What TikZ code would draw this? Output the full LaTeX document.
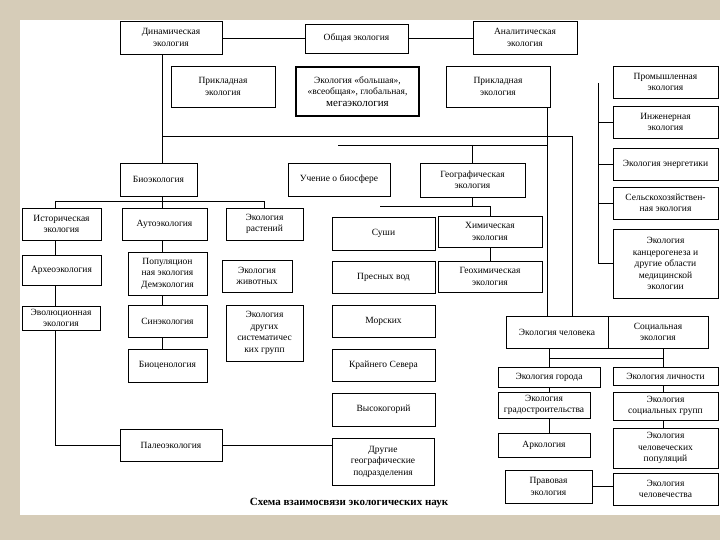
\documentclass[tikz,border=0pt]{standalone}
\usepackage{fontspec}
\setmainfont{Liberation Serif}
\definecolor{bg}{RGB}{214,204,184}
\tikzset{
  box/.style={draw, line width=0.8pt, inner sep=1pt, align=center, font=\fontsize{9.5}{11.5}\selectfont},
  conn/.style={line width=0.8pt}
}
\newcommand\bx[7][]{\node[box,#1,minimum width={(#5-#3)*1pt},minimum height={(#6-#4)*1pt}] (#2) at ({(#3+#5)/2},{(#4+#6)/2}) {#7};}
\begin{document}
\begin{tikzpicture}[x=1pt,y=-1pt]
\fill[bg] (0,0) rectangle (720,540);
\fill[white] (20,20) rectangle (720,515);
\useasboundingbox (0,0) rectangle (720,540);

% top row
\bx{dyn}{120}{21}{222}{54}{Динамическая\\экология}
\bx{obsh}{305}{24}{408}{53}{Общая экология}
\bx{anal}{473}{21}{577}{54}{Аналитическая\\экология}
% second row
\bx{prikL}{171}{66}{275}{107}{Прикладная\\экология}
\bx[line width=2.6pt]{mega}{296}{67}{419}{116}{Экология «большая»,\\«всеобщая», глобальная,\\{\fontsize{11}{13}\selectfont мегаэкология}}
\bx{prikR}{446}{66}{550}{107}{Прикладная\\экология}
% right column
\bx{prom}{613}{66}{718}{98}{Промышленная\\экология}
\bx{inzh}{613}{106}{718}{138}{Инженерная\\экология}
\bx{energ}{613}{148}{718}{180}{Экология энергетики}
\bx{selh}{613}{187}{718}{219}{Сельскохозяйствен-\\ная экология}
\bx{kanc}{613}{229}{718}{298}{Экология\\канцерогенеза и\\другие области\\медицинской\\экологии}
% third row
\bx{bio}{120}{163}{197}{196}{Биоэкология}
\bx{uch}{288}{163}{390}{196}{Учение о биосфере}
\bx{geo}{420}{163}{525}{197}{Географическая\\экология}
% biology branch
\bx{ist}{22}{208}{101}{240}{Историческая\\экология}
\bx{auto}{122}{208}{207}{240}{Аутоэкология}
\bx{rast}{226}{208}{303}{240}{Экология\\растений}
\bx{arh}{22}{255}{101}{285}{Археоэкология}
\bx{pop}{128}{252}{207}{295}{Популяцион\\ная экология\\Демэкология}
\bx{zhiv}{222}{260}{292}{292}{Экология\\животных}
\bx{evol}{22}{306}{100}{330}{Эволюционная\\экология}
\bx{sin}{128}{305}{207}{337}{Синэкология}
\bx{sist}{226}{305}{303}{361}{Экология\\других\\систематичес\\ких групп}
\bx{biocen}{128}{349}{207}{382}{Биоценология}
\bx{paleo}{120}{429}{222}{461}{Палеоэкология}
% geography branch
\bx{sushi}{332}{217}{435}{250}{Суши}
\bx{him}{438}{216}{542}{247}{Химическая\\экология}
\bx{presn}{332}{261}{435}{293}{Пресных вод}
\bx{geohim}{438}{261}{542}{292}{Геохимическая\\экология}
\bx{mor}{332}{305}{435}{337}{Морских}
\bx{sever}{332}{349}{435}{381}{Крайнего Севера}
\bx{vys}{332}{393}{435}{426}{Высокогорий}
\bx{drug}{332}{438}{434}{485}{Другие\\географические\\подразделения}
% human branch
\bx{chel}{506}{316}{608}{348}{Экология человека}
\bx{soc}{608}{316}{708}{348}{Социальная\\экология}
\bx{gor}{498}{367}{600}{387}{Экология города}
\bx{lich}{613}{367}{718}{385}{Экология личности}
\bx{grad}{498}{392}{590}{418}{Экология\\градостроительства}
\bx{ark}{498}{433}{590}{457}{Аркология}
\bx{prav}{505}{470}{592}{503}{Правовая\\экология}
\bx{socgr}{613}{392}{718}{420}{Экология\\социальных групп}
\bx{pops}{613}{428}{718}{468}{Экология\\человеческих\\популяций}
\bx{chelv}{613}{473}{718}{505}{Экология\\человечества}

\node[font=\fontsize{11}{13}\selectfont\bfseries] (cap) at (349,503) {Схема взаимосвязи экологических наук};

% helper coordinates
\coordinate (c55) at (55,0);
\coordinate (c162) at (162,0);
\coordinate (c547) at (547,0);
\coordinate (c548) at (549,0);
\coordinate (c572) at (572,0);
\coordinate (c598) at (598,0);
\coordinate (c663) at (663,0);
\coordinate (t1) at (162,136);
\coordinate (t2) at (572,136);
\coordinate (h1) at (338,145);
\coordinate (g1) at (380,206);
\coordinate (g2) at (490,206);
\coordinate (b1) at (55,201);
\coordinate (b2) at (264.5,201);
\coordinate (r1) at (598,83);
\coordinate (k1) at (549,358);
\coordinate (k2) at (663,358);

\begin{scope}[conn]
% top
\draw (obsh.west -| dyn.east) -- (obsh.west);
\draw (obsh.east) -- (obsh.east -| anal.west);
\draw (c162 |- dyn.south) -- (c162 |- bio.north);
\draw (t1) -- (t2) -- (c572 |- chel.north);
\draw (c547 |- prikR.south) -- (c547 |- chel.north);
\draw (h1) -- (h1 -| c547);
\draw (geo.north |- h1) -- (geo.north);
% geography
\draw (geo.south) -- (geo.south |- g1);
\draw (g1) -- (g2) -- (him.north);
\draw (him.south) -- (geohim.north);
% biology
\draw (c162 |- bio.south) -- (c162 |- b1);
\draw (b1) -- (b2) -- (rast.north);
\draw (b1) -- (c55 |- ist.north);
\draw (c162 |- b1) -- (c162 |- auto.north);
\draw (c55 |- ist.south) -- (c55 |- arh.north);
\draw (c55 |- arh.south) -- (c55 |- evol.north);
\draw (c55 |- evol.south) -- (c55 |- paleo.west) -- (paleo.west);
\draw (paleo.east) -- (paleo.east -| drug.west);
\draw (c162 |- auto.south) -- (c162 |- pop.north);
\draw (c162 |- pop.south) -- (c162 |- sin.north);
\draw (c162 |- sin.south) -- (c162 |- biocen.north);
% right column
\draw (r1) -- (c598 |- kanc.west) -- (kanc.west);
\draw (c598 |- inzh.west) -- (inzh.west);
\draw (c598 |- energ.west) -- (energ.west);
\draw (c598 |- selh.west) -- (selh.west);
% human
\draw (c548 |- chel.south) -- (c548 |- gor.north);
\draw (c663 |- soc.south) -- (c663 |- lich.north);
\draw (k1) -- (k2);
\draw (c548 |- gor.south) -- (c548 |- grad.north);
\draw (c548 |- grad.south) -- (c548 |- ark.north);
\draw (c663 |- lich.south) -- (c663 |- socgr.north);
\draw (c663 |- socgr.south) -- (c663 |- pops.north);
\draw (prav.east) -- (prav.east -| chelv.west);
\end{scope}
\end{tikzpicture}
\end{document}
